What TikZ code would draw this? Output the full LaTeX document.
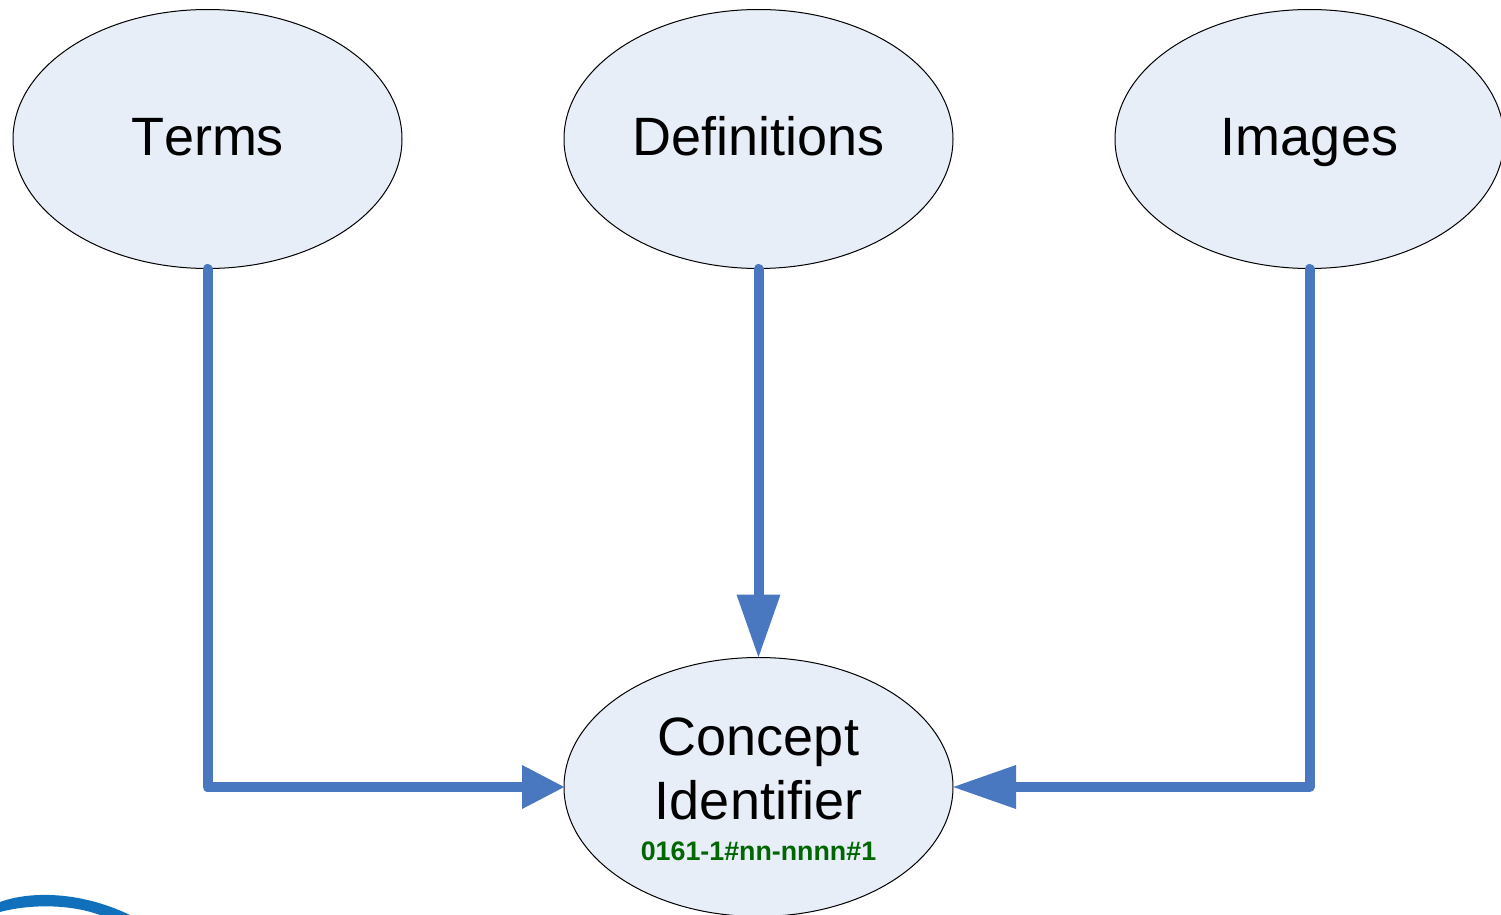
\documentclass[tikz,border=0pt]{standalone}
\usepackage{fontspec}
\setmainfont[Kerning=Off]{Liberation Sans}
\usetikzlibrary{shapes,arrows.meta}
\definecolor{bubblefill}{HTML}{E8EEF8}
\definecolor{linkblue}{HTML}{4A78C0}
\definecolor{idgreen}{HTML}{006600}
\definecolor{logoblue}{HTML}{1070BC}
\tikzset{
  bubble/.style={ellipse, draw=black, fill=bubblefill, line width=0.5pt, inner sep=0pt,
    minimum width=194.5pt, minimum height=129.5pt, align=center, font=\fontsize{27}{32}\selectfont},
  oneline/.style={text height=18.5pt, text depth=2pt},
  link/.style={draw=linkblue, line width=5pt, line cap=round, line join=round, shorten >=-0.75pt}
}

\begin{document}
\begin{tikzpicture}[x=0.5pt, y=-0.5pt, node distance=275.5pt, auto]
\useasboundingbox (0,0) rectangle (1501,915);
\node[bubble, oneline] (terms) at (207.5,139) {Terms};
\node[bubble, oneline, right of=terms] (definitions) {Definitions};
\node[bubble, oneline, right of=definitions] (images) {Images};
\node[bubble, below of=definitions, node distance=324pt] (concept) {\rule{0pt}{20.7pt}Concept\\Identifier\\[-11.5pt]{\fontsize{13.4}{16}\selectfont\bfseries\color{idgreen}0161-1\#nn-nnnn\#1}};

\draw[link, -{Triangle[length=21.5pt, width=20.5pt]}] (terms.south) |- (concept.west);
\draw[link, -{Triangle[length=32pt, width=20.5pt]}] (definitions.south) -- (concept.north);
\draw[link, -{Triangle[length=32pt, width=20.5pt]}] (images.south) |- (concept.east);

% logo edge in the corner
\fill[logoblue] (0,902) .. controls (30,891) and (80,891) .. (130,915) -- (100,915) .. controls (70,904) and (30,904) .. (0,912) -- cycle;
\end{tikzpicture}
\end{document}
